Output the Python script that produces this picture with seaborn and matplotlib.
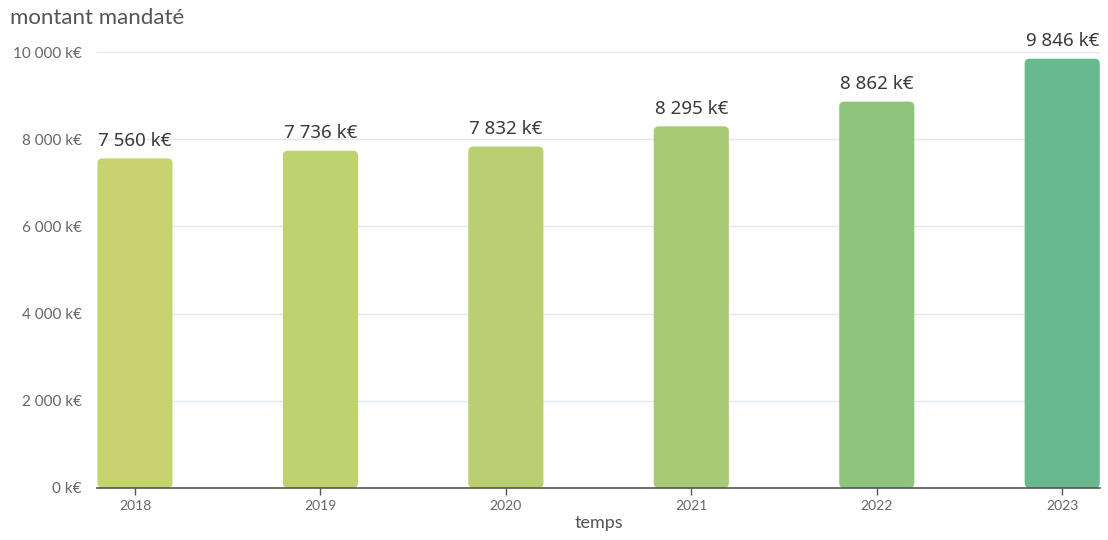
import matplotlib
matplotlib.use("Agg")
import matplotlib.pyplot as plt
import seaborn as sns
import pandas as pd
from matplotlib.patches import FancyBboxPatch

years = ["2018", "2019", "2020", "2021", "2022", "2023"]
amounts = [7560, 7736, 7832, 8295, 8862, 9846]
bar_colors = ["#c6d36e", "#bfd270", "#b9cf71", "#a7ca76", "#8fc47d", "#69b98f"]
y_ticks = [0, 2000, 4000, 6000, 8000, 10000]


def fmt_k(v):
    return f"{v:,}".replace(",", " ") + " k€"


df = pd.DataFrame({"annee": years, "montant": amounts})

sns.set_theme(style="white")
plt.rcParams["font.family"] = ["Noto Sans", "DejaVu Sans"]

fig = plt.figure(figsize=(11.08, 5.40), dpi=100)
ax = fig.add_axes([0.0875, 0.0963, 0.9055, 0.8074])

sns.barplot(data=df, x="annee", y="montant", hue="annee", palette=bar_colors,
            legend=False, width=0.405, ax=ax, saturation=1)

ax.set_xlim(-0.205, 5.205)
ax.set_ylim(0, 10000)

# Replace the square bars with slightly rounded ones
fig.canvas.draw()
bbox = ax.get_window_extent()
x_per_px = (5.205 + 0.205) / bbox.width
y_per_px = 10000 / bbox.height
for patch in list(ax.patches):
    x, y = patch.get_x(), patch.get_y()
    w, h = patch.get_width(), patch.get_height()
    color = patch.get_facecolor()
    patch.remove()
    rounded = FancyBboxPatch((x, y), w, h,
                             boxstyle=f"round,pad=0,rounding_size={5 * x_per_px}",
                             mutation_aspect=y_per_px / x_per_px,
                             facecolor=color, edgecolor="none", zorder=2)
    ax.add_patch(rounded)

ax.set_yticks(y_ticks)
ax.set_yticklabels([fmt_k(v) for v in y_ticks], fontsize=11, color="#666666",
                   family=["Lato", "DejaVu Sans"])
ax.tick_params(axis="y", length=0, pad=11)
ax.tick_params(axis="x", length=5, width=1, color="#555555", labelsize=10,
               labelcolor="#666666", pad=4, bottom=True)
for lbl in ax.get_xticklabels():
    lbl.set_family(["Lato", "DejaVu Sans"])

ax.grid(axis="y", color="#e3e6f3", linewidth=1, zorder=0)
ax.set_axisbelow(True)
for side in ["top", "right", "left"]:
    ax.spines[side].set_visible(False)
ax.spines["bottom"].set_color("#555555")
ax.spines["bottom"].set_linewidth(1.2)

for i, v in enumerate(amounts):
    ax.annotate(fmt_k(v), (i, v), xytext=(0, 6), textcoords="offset points",
                ha="center", va="bottom", fontsize=13.5, color="#3a3a3a",
                clip_on=False)

ax.set_xlabel("temps", fontsize=13, color="#555555", labelpad=2,
              family=["Lato", "DejaVu Sans"])
ax.set_ylabel("")
fig.text(0.009, 0.967, "montant mandaté", fontsize=16, color="#555555",
         ha="left", va="center", family=["Lato", "DejaVu Sans"])

fig.savefig("out.png", dpi=100)
